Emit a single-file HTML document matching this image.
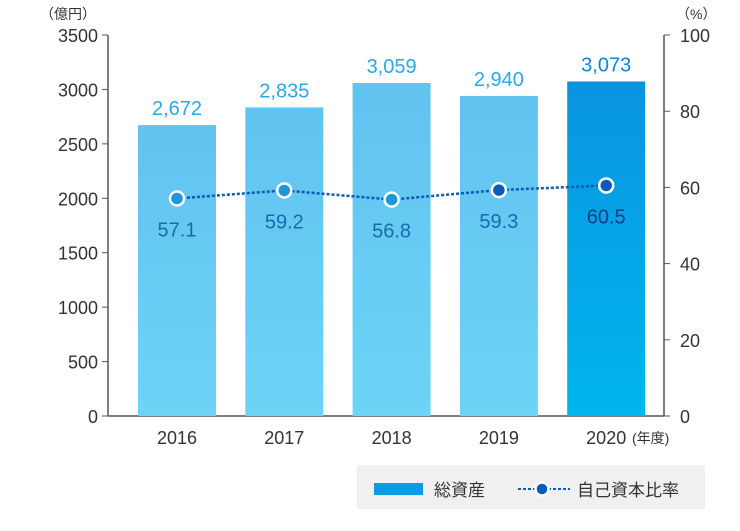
<!DOCTYPE html>
<html><head><meta charset="utf-8"><style>
body{margin:0;background:#fff;}
svg{display:block;font-family:"Liberation Sans","Noto Sans CJK JP",sans-serif;}
</style></head><body>
<svg id="c" width="740" height="531" viewBox="0 0 740 531">
<defs>
<linearGradient id="gl" x1="0" y1="0" x2="0" y2="1"><stop offset="0" stop-color="#62c2f0"/><stop offset="1" stop-color="#6dd4f6"/></linearGradient>
<linearGradient id="gd" x1="0" y1="0" x2="0" y2="1"><stop offset="0" stop-color="#0a94e0"/><stop offset="1" stop-color="#00b6ee"/></linearGradient>
</defs>
<g id="g"></g>
<g>
<rect x="357" y="465" width="348" height="44" fill="#f0f0f0"/>
<rect x="374" y="483" width="49" height="12" fill="#0a9ce3"/>
<text x="434" y="496" font-size="17" fill="#333">総資産</text>
<line x1="518" y1="489" x2="570" y2="489" stroke="#0a5cb8" stroke-width="2" stroke-dasharray="3,2"/>
<circle cx="542" cy="489" r="6.5" fill="#0a5cb8" stroke="#fff" stroke-width="2.5"/>
<text x="577" y="496" font-size="17" fill="#333">自己資本比率</text>
</g>
</svg>
<script>
const years=["2016","2017","2018","2019","2020"];
const assets=[2672,2835,3059,2940,3073];
const ratio=[57.1,59.2,56.8,59.3,60.5];
const leftTicks=[0,500,1000,1500,2000,2500,3000,3500];
const rightTicks=[0,20,40,60,80,100];
const NS="http://www.w3.org/2000/svg";
const g=document.getElementById("g");
const y0=416,yTop=35;
const yL=v=>y0-(v/3500)*(y0-yTop);
const yR=v=>y0-(v/100)*(y0-yTop);
const xC=i=>177+i*107.3;
const bw=78;
function mk(t,a){const e=document.createElementNS(NS,t);for(const k in a)e.setAttribute(k,a[k]);g.appendChild(e);return e;}
// axes
let e=mk("line",{x1:108,y1:y0,x2:664,y2:y0,stroke:"#555","stroke-width":1.5});


e=mk("line",{x1:108,y1:yTop,x2:108,y2:y0,stroke:"#555","stroke-width":1.5});


e=mk("line",{x1:664,y1:yTop,x2:664,y2:y0,stroke:"#555","stroke-width":1.5});


leftTicks.forEach(v=>{
 const t=mk("line",{x1:102,y1:yL(v),x2:108,y2:yL(v),stroke:"#555"});
 
 
 const l=mk("text",{x:98,y:yL(v)+7,"font-size":18,fill:"#333","text-anchor":"end"});l.textContent=v;
 
 
});
rightTicks.forEach(v=>{
 const t=mk("line",{x1:664,y1:yR(v),x2:670,y2:yR(v),stroke:"#555"});
 
 
 const l=mk("text",{x:680,y:yR(v)+7,"font-size":18,fill:"#333"});l.textContent=v;
 
 
});
let u=mk("text",{x:40,y:19,"font-size":14,fill:"#333"});u.textContent="（億円）";


u=mk("text",{x:676,y:19,"font-size":14,fill:"#333"});u.textContent="（%）";


// bars
years.forEach((yr,i)=>{
 const last=i===years.length-1;
 const b=mk("rect",{x:xC(i)-bw/2,y:yL(assets[i]),width:bw,height:y0-yL(assets[i]),fill:last?"url(#gd)":"url(#gl)"});
 
 
 const l=mk("text",{x:xC(i),y:yL(assets[i])-10,"font-size":20,fill:last?"#0a86d8":"#2aa8ea","text-anchor":"middle"});
 l.textContent=assets[i].toLocaleString("en-US");
 
 
 const x=mk("text",{x:xC(i),y:444,"font-size":18,fill:"#333","text-anchor":"middle"});x.textContent=yr;
 
 
});
u=mk("text",{x:632,y:443,"font-size":14,fill:"#333"});u.textContent="(年度)";


// line
const pl=mk("polyline",{points:ratio.map((v,i)=>xC(i)+","+yR(v)).join(" "),fill:"none",stroke:"#0a5cb8","stroke-width":2.5,"stroke-dasharray":"3,2"});


ratio.forEach((v,i)=>{
 const c=mk("circle",{cx:xC(i),cy:yR(v),r:7,fill:i>=3?"#0a5cb8":"#1e96dc",stroke:"#fff","stroke-width":2.5});
 
 
 const l=mk("text",{x:xC(i),y:yR(v)+38,"font-size":20,fill:i===4?"#0a3f80":"#1a6aaa","text-anchor":"middle"});
 l.textContent=v.toFixed(1);
 
 
});
</script>
</body></html>
